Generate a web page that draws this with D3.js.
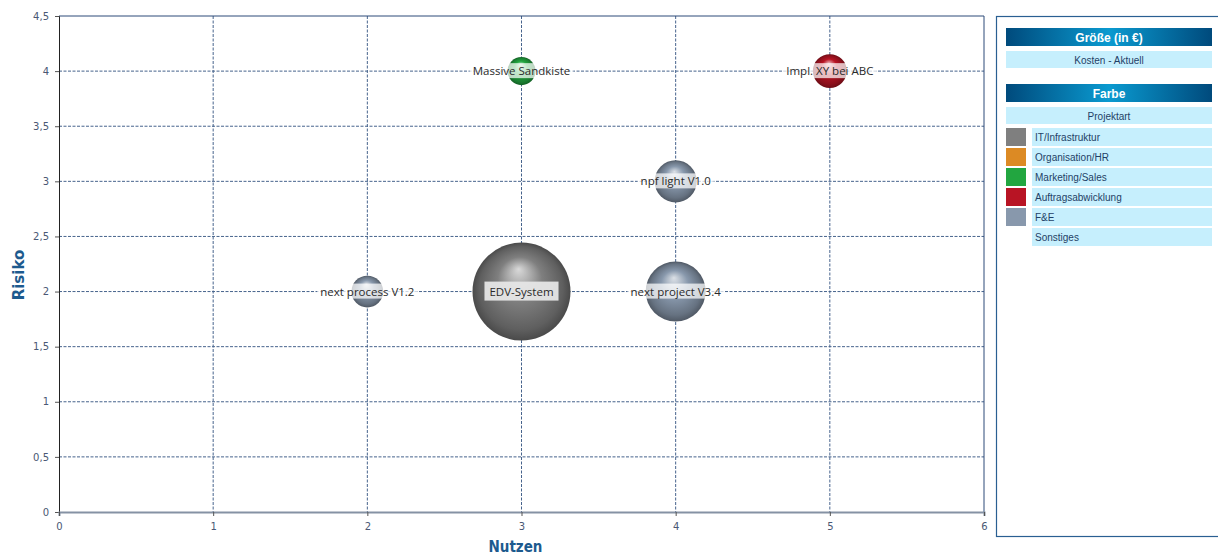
<!DOCTYPE html>
<html>
<head>
<meta charset="utf-8">
<script src="https://cdn.jsdelivr.net/npm/d3@7"></script>
<style>
  body { margin: 0; background: #fff; }
  svg { display: block; }
</style>
</head>
<body>
<svg id="chart" width="1218" height="556"></svg>
<script>
// data
var projects = ["EDV-System", "next project V3.4", "npf light V1.0", "next process V1.2", "Massive Sandkiste", "Impl. XY bei ABC"];
var nutzen   = [3, 4, 4, 2, 3, 5];
var risiko   = [2, 2, 3, 2, 4, 4];
var kosten   = [100000, 37500, 18500, 10500, 8200, 12000];
var projektart = ["IT/Infrastruktur", "F&E", "F&E", "F&E", "Marketing/Sales", "Auftragsabwicklung"];

var artNames  = ["IT/Infrastruktur", "Organisation/HR", "Marketing/Sales", "Auftragsabwicklung", "F&E", "Sonstiges"];
var artColors = ["#7f7f7f", "#dc8a24", "#22a640", "#b81424", "#8898ac", null];

var xTicks = [0, 1, 2, 3, 4, 5, 6];
var yTicks = [0, 0.5, 1, 1.5, 2, 2.5, 3, 3.5, 4, 4.5];

var svg = d3.select("#chart"),
    margin = {left: 59, top: 16, right: 234, bottom: 44},
    width = 1218 - margin.left - margin.right,
    height = 556 - margin.top - margin.bottom;

var x = d3.scaleLinear().domain([0, 6]).range([0, width]);
var y = d3.scaleLinear().domain([0, 4.5]).range([height, 0]);
var r = d3.scaleSqrt().domain([0, d3.max(kosten)]).range([0, 49]);
var color = d3.scaleOrdinal().domain(artNames).range(artColors);
var fmt = d => String(d).replace(".", ",");

// sphere gradients
var defs = svg.append("defs");
artNames.forEach(function(a, i) {
  if (!artColors[i]) return;
  var c = d3.color(artColors[i]);
  var g = defs.append("radialGradient")
    .attr("id", "sph" + i)
    .attr("cx", "50%").attr("cy", "50%").attr("r", "50%")
    .attr("fx", "47%").attr("fy", "27%");
  g.append("stop").attr("offset", "0%").attr("stop-color", d3.interpolateRgb(c, "#fff")(0.7));
  g.append("stop").attr("offset", "45%").attr("stop-color", c.formatHex());
  g.append("stop").attr("offset", "85%").attr("stop-color", c.darker(0.8).formatHex());
  g.append("stop").attr("offset", "100%").attr("stop-color", c.darker(1.5).formatHex());
});

var g = svg.append("g").attr("transform", "translate(" + margin.left + "," + margin.top + ")");

// grid
var gridColor = "#46638c";
g.append("g").selectAll("line")
  .data(yTicks.slice(1, -1))
  .enter().append("line")
  .attr("x1", 0).attr("x2", width)
  .attr("y1", d => y(d)).attr("y2", d => y(d))
  .attr("stroke", gridColor).attr("stroke-width", 1)
  .attr("stroke-dasharray", "3,1.5");

g.append("g").selectAll("line")
  .data(xTicks.slice(1, -1))
  .enter().append("line")
  .attr("x1", d => x(d)).attr("x2", d => x(d))
  .attr("y1", 0).attr("y2", height)
  .attr("stroke", gridColor).attr("stroke-width", 1)
  .attr("stroke-dasharray", "3,1.5");

// frame top/right
g.append("line").attr("x1", 0).attr("x2", width).attr("y1", 0).attr("y2", 0)
  .attr("stroke", "#2d4a78").attr("stroke-width", 1);
g.append("line").attr("x1", width).attr("x2", width).attr("y1", 0).attr("y2", height)
  .attr("stroke", "#2d4a78").attr("stroke-width", 1);

// axes
var yAxis = g.append("g")
  .call(d3.axisLeft(y).tickValues(yTicks).tickFormat(fmt).tickSize(4).tickPadding(6));
yAxis.select(".domain").attr("stroke", "#222");
yAxis.selectAll(".tick line").attr("stroke", "#555");
yAxis.selectAll("text").attr("fill", "#4a5874").style("font", "10px 'DejaVu Sans', Verdana, sans-serif");

var xAxis = g.append("g").attr("transform", "translate(0," + height + ")")
  .call(d3.axisBottom(x).tickValues(xTicks).tickFormat(fmt).tickSize(4).tickPadding(7));
xAxis.select(".domain").attr("stroke", "#8592a4").attr("stroke-width", 2);
xAxis.selectAll(".tick line").attr("stroke", "#555");
xAxis.selectAll("text").attr("fill", "#4a5874").style("font", "10px 'DejaVu Sans', Verdana, sans-serif");

svg.append("text")
  .attr("x", margin.left + x(3) - 6).attr("y", 552)
  .attr("text-anchor", "middle")
  .attr("fill", "#1d5a8e")
  .style("font", "bold 15px 'DejaVu Sans Condensed', 'DejaVu Sans', sans-serif")
  .text("Nutzen");

svg.append("text")
  .attr("transform", "translate(24," + (margin.top + y(2.15)) + ") rotate(-90)")
  .attr("text-anchor", "middle")
  .attr("fill", "#1d5a8e")
  .style("font", "bold 15px 'DejaVu Sans', sans-serif")
  .text("Risiko");

// bubbles
var idx = d3.range(projects.length).sort((a, b) => kosten[b] - kosten[a]);
g.append("g").selectAll("circle")
  .data(idx)
  .enter().append("circle")
  .attr("cx", i => x(nutzen[i]))
  .attr("cy", i => y(risiko[i]))
  .attr("r", i => r(kosten[i]))
  .attr("fill", i => "url(#sph" + artNames.indexOf(projektart[i]) + ")");

// labels
var lab = g.append("g").selectAll("g")
  .data(idx)
  .enter().append("g")
  .attr("transform", i => "translate(" + x(nutzen[i]) + "," + y(risiko[i]) + ")");

lab.append("text")
  .attr("text-anchor", "middle")
  .attr("dy", "0.35em")
  .attr("fill", "#2a2a2a")
  .style("font", "11.5px 'Open Sans', 'Liberation Sans', sans-serif")
  .text(i => projects[i]);

lab.each(function(i) {
  var t = d3.select(this).select("text");
  var bb = t.node().getBBox();
  var big = i === 0;
  var px = big ? 5 : 3, py = big ? 2 : 0;
  d3.select(this).insert("rect", "text")
    .attr("x", bb.x - px).attr("y", bb.y - py)
    .attr("width", bb.width + 2 * px).attr("height", bb.height + 2 * py)
    .attr("fill", big ? "#e6e6e6" : "#fff")
    .attr("fill-opacity", big ? 0.95 : 0.72);
});

// legend panel
var leg = svg.append("g");
leg.append("rect")
  .attr("x", 996.5).attr("y", 16.5).attr("width", 230).attr("height", 520)
  .attr("fill", "#fff").attr("stroke", "#2a5f92").attr("stroke-width", 1.2);

var hg = defs.append("linearGradient").attr("id", "hdr");
hg.append("stop").attr("offset", "0%").attr("stop-color", "#004a7c");
hg.append("stop").attr("offset", "50%").attr("stop-color", "#0a9ad0");
hg.append("stop").attr("offset", "100%").attr("stop-color", "#004a7c");

var lx = 1006, lw = 206;

function header(y0, label) {
  leg.append("rect").attr("x", lx).attr("y", y0).attr("width", lw).attr("height", 18).attr("fill", "url(#hdr)");
  leg.append("text").attr("x", lx + lw / 2).attr("y", y0 + 13.5)
    .attr("text-anchor", "middle").attr("fill", "#fff")
    .style("font", "bold 12px 'Liberation Sans', Arial, sans-serif").text(label);
}
function subrow(y0, label) {
  leg.append("rect").attr("x", lx).attr("y", y0).attr("width", lw).attr("height", 17).attr("fill", "#c6effd");
  leg.append("text").attr("x", lx + lw / 2).attr("y", y0 + 12.5)
    .attr("text-anchor", "middle").attr("fill", "#1f3f66")
    .style("font", "10px 'Liberation Sans', Arial, sans-serif").text(label);
}

header(28, "Größe (in €)");
subrow(51, "Kosten - Aktuell");
header(84, "Farbe");
subrow(107, "Projektart");

var items = leg.append("g").selectAll("g")
  .data(artNames)
  .enter().append("g")
  .attr("transform", (d, i) => "translate(0," + (128 + i * 20) + ")");

items.filter(d => color(d))
  .append("rect")
  .attr("x", lx).attr("y", 0).attr("width", 20).attr("height", 18)
  .attr("fill", d => color(d));

items.append("rect")
  .attr("x", 1032).attr("y", 0).attr("width", 180).attr("height", 18)
  .attr("fill", "#c6effd");

items.append("text")
  .attr("x", 1035).attr("y", 13)
  .attr("fill", "#1f3f66")
  .style("font", "10px 'Liberation Sans', Arial, sans-serif")
  .text(d => d);
</script>
</body>
</html>
